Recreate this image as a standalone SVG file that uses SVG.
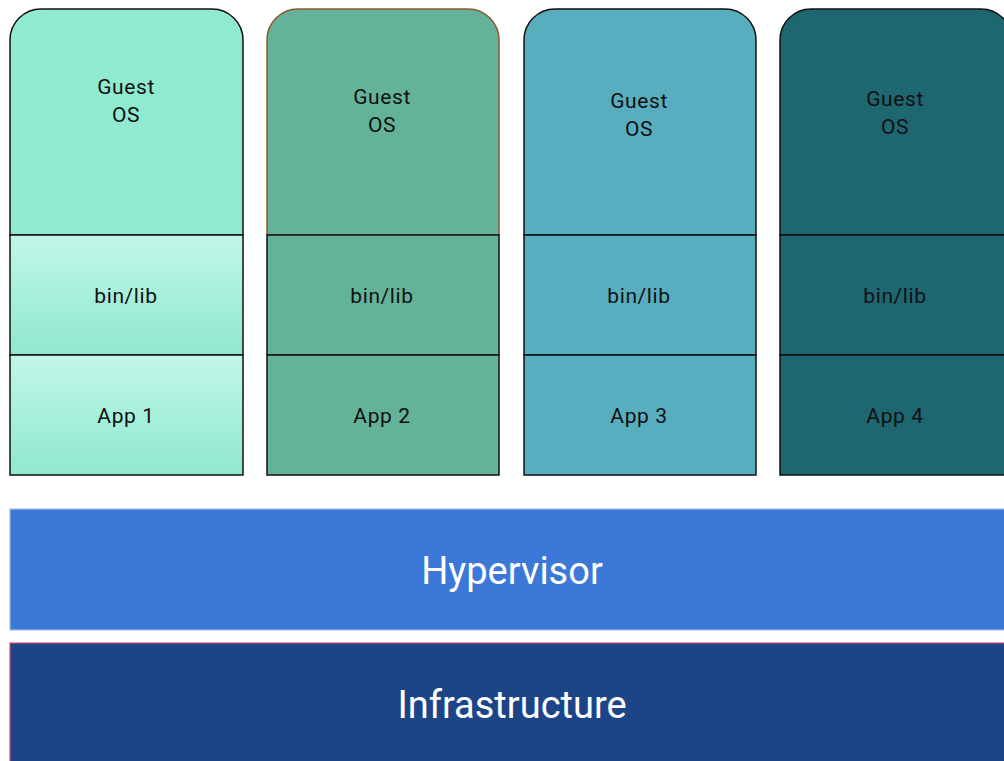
<svg xmlns="http://www.w3.org/2000/svg" width="1004" height="761" viewBox="0 0 1004 761">
  <defs>
    <linearGradient id="mint" x1="0" y1="0" x2="0" y2="1">
      <stop offset="0" stop-color="#c1f7e8"/>
      <stop offset="1" stop-color="#8fe8cd"/>
    </linearGradient>
    <style>
      .cell { stroke: #111; stroke-width: 1.5; }
      .lbl { font-family: Roboto, "Liberation Sans", sans-serif; font-size: 21px; letter-spacing: 0.6px; fill: #111111; text-anchor: middle; }
      .big { font-family: Roboto, "Liberation Sans", sans-serif; font-size: 38px; fill: #ffffff; text-anchor: middle; }
    </style>
  </defs>
  <rect width="1004" height="761" fill="#ffffff"/>

  <!-- VM 1 -->
  <g id="vm1">
    <path class="cell" d="M10,235 V40 A31,31 0 0 1 41,9 H212 A31,31 0 0 1 243,40 V235 Z" fill="#90eacf"/>
    <rect class="cell" x="10" y="235" width="233" height="120" fill="url(#mint)"/>
    <rect class="cell" x="10" y="355" width="233" height="120" fill="url(#mint)"/>
    <text class="lbl" x="126" y="94">Guest</text>
    <text class="lbl" x="126" y="122">OS</text>
    <text class="lbl" x="126" y="303">bin/lib</text>
    <text class="lbl" x="126" y="423">App 1</text>
  </g>

  <!-- VM 2 -->
  <g id="vm2">
    <path d="M267,235 V40 A31,31 0 0 1 298,9 H468 A31,31 0 0 1 499,40 V235 Z" fill="#64b29a" stroke="#8a5a2c" stroke-width="1.5"/>
    <rect class="cell" x="267" y="235" width="232" height="120" fill="#64b29a"/>
    <rect class="cell" x="267" y="355" width="232" height="120" fill="#64b29a"/>
    <text class="lbl" x="382" y="104">Guest</text>
    <text class="lbl" x="382" y="132">OS</text>
    <text class="lbl" x="382" y="303">bin/lib</text>
    <text class="lbl" x="382" y="423">App 2</text>
  </g>

  <!-- VM 3 -->
  <g id="vm3">
    <path class="cell" d="M524,235 V40 A31,31 0 0 1 555,9 H725 A31,31 0 0 1 756,40 V235 Z" fill="#58aebe"/>
    <rect class="cell" x="524" y="235" width="232" height="120" fill="#58aebe"/>
    <rect class="cell" x="524" y="355" width="232" height="120" fill="#58aebe"/>
    <text class="lbl" x="639" y="108">Guest</text>
    <text class="lbl" x="639" y="136">OS</text>
    <text class="lbl" x="639" y="303">bin/lib</text>
    <text class="lbl" x="639" y="423">App 3</text>
  </g>

  <!-- VM 4 -->
  <g id="vm4">
    <path class="cell" d="M780,235 V40 A31,31 0 0 1 811,9 H981 A31,31 0 0 1 1012,40 V235 Z" fill="#1e6670"/>
    <rect class="cell" x="780" y="235" width="232" height="120" fill="#1e6670"/>
    <rect class="cell" x="780" y="355" width="232" height="120" fill="#1e6670"/>
    <text class="lbl" x="895" y="106">Guest</text>
    <text class="lbl" x="895" y="134">OS</text>
    <text class="lbl" x="895" y="303">bin/lib</text>
    <text class="lbl" x="895" y="423">App 4</text>
  </g>

  <!-- Hypervisor layer -->
  <g id="hypervisor">
    <rect x="10" y="509" width="1000" height="121" fill="#3b78d8" stroke="#9dbdec" stroke-width="1.2"/>
    <text class="big" x="512" y="584">Hypervisor</text>
  </g>

  <!-- Infrastructure layer -->
  <g id="infrastructure">
    <rect x="10" y="643" width="1000" height="130" fill="#1c4587" stroke="#c9546a" stroke-width="1.2"/>
    <text class="big" x="512" y="718">Infrastructure</text>
  </g>

  <g id="connectors"/>
</svg>
